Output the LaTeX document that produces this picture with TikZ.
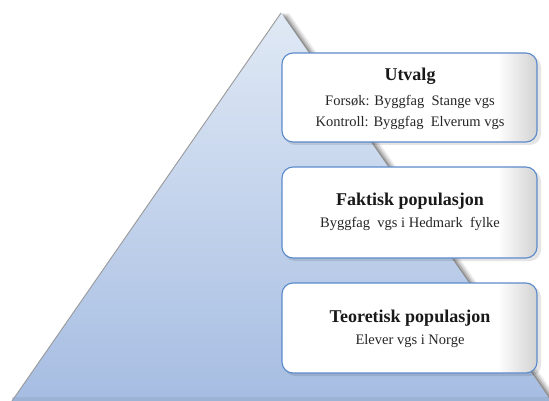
\documentclass[tikz,border=0pt]{standalone}
\usepackage{fontspec}
\setmainfont{Liberation Serif}
\usetikzlibrary{shadows,fadings}
\definecolor{tritop}{HTML}{E0E9F5}
\definecolor{tribot}{HTML}{A6BDE2}
\definecolor{boxline}{HTML}{5A8ACB}
\tikzset{
  levelbox/.style={draw=boxline, line width=1.1pt, rounded corners=11pt},
  titletext/.style={font=\fontsize{18}{21}\selectfont\bfseries, text=black!90},
  subtext/.style={font=\fontsize{14.5}{17}\selectfont, text=black!85, align=center},
}
\begin{document}
\begin{tikzpicture}[x=1pt,y=-1pt]
\useasboundingbox (0,0) rectangle (549,401);
% triangle shadow
\foreach \d/\o in {8/0.08,6/0.10,4/0.14,2/0.2}{
  \fill[black,opacity=\o] (281+\d,13) -- (551+\d,401) -- (12+\d,401) -- cycle;
}
\shade[top color=tritop, bottom color=tribot] (281,13) coordinate (apex) -- (551,401) coordinate (br) -- (12,401) coordinate (bl) -- cycle;
\draw[gray!80, line width=0.9pt] (bl) -- (apex);
\fill[tribot!85!black, opacity=0.35] (12,397) rectangle (551,401);
% boxes
\foreach \n/\ya/\yb in {b1/53/142, b2/167/258, b3/283/373}{
  \begin{scope}
    \fill[black, opacity=0.10, rounded corners=11pt] (284,\ya+3) rectangle (541,\yb+3);
    \fill[white, rounded corners=11pt] (282,\ya) rectangle (537,\yb);
    \clip[rounded corners=11pt] (282,\ya) rectangle (537,\yb);
    \shade[left color=white, right color=gray!35] (497,\ya) rectangle (537,\yb);
  \end{scope}
  \draw[levelbox] (282,\ya) rectangle (537,\yb);
}
\node[titletext] (t1) at (410,76) {Utvalg};
\node[subtext] (s1) at (410,102) {Forsøk: Byggfag\ \ Stange vgs};
\node[subtext] (s1b) at (410,123) {Kontroll: Byggfag\ \ Elverum vgs};
\node[titletext] (t2) at (410,201) {Faktisk populasjon};
\node[subtext] (s2) at (410,224) {Byggfag\ \ vgs i Hedmark\ \ fylke};
\node[titletext] (t3) at (410,318) {Teoretisk populasjon};
\node[subtext] (s3) at (410,341) {Elever vgs i Norge};
\end{tikzpicture}
\end{document}
